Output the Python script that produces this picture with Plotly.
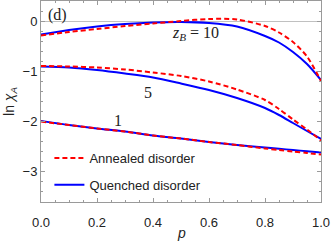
import plotly.graph_objects as go

p = [0.0, 0.1, 0.2, 0.3, 0.4, 0.5, 0.6, 0.7, 0.8, 0.85, 0.9, 0.95, 1.0]

quenched_10 = [-0.27, -0.18, -0.11, -0.06, -0.03, -0.02, -0.04, -0.11, -0.30, -0.43, -0.62, -0.86, -1.18]
annealed_10 = [-0.29, -0.22, -0.16, -0.10, -0.05, 0.00, 0.04, 0.03, -0.10, -0.23, -0.42, -0.71, -1.20]

quenched_5 = [-0.91, -0.93, -0.98, -1.05, -1.13, -1.25, -1.38, -1.54, -1.74, -1.88, -2.04, -2.20, -2.36]
annealed_5 = [-0.90, -0.91, -0.93, -0.97, -1.03, -1.10, -1.21, -1.37, -1.58, -1.76, -1.97, -2.17, -2.39]

quenched_1 = [-2.00, -2.08, -2.15, -2.21, -2.29, -2.35, -2.42, -2.48, -2.53, -2.555, -2.58, -2.605, -2.63]
annealed_1 = [-2.01, -2.08, -2.15, -2.21, -2.29, -2.35, -2.42, -2.48, -2.55, -2.58, -2.61, -2.64, -2.67]

RED = "#ff0000"
BLUE = "#0000ff"

fig = go.Figure()

for i, (q, a) in enumerate([(quenched_10, annealed_10), (quenched_5, annealed_5), (quenched_1, annealed_1)]):
    fig.add_trace(go.Scatter(x=p, y=q, mode="lines", line=dict(color=BLUE, width=2, shape="spline", smoothing=0.8),
                             name="Quenched disorder", showlegend=(i == 0), legend="legend2"))
    fig.add_trace(go.Scatter(x=p, y=a, mode="lines", line=dict(color=RED, width=2, dash="5px,3px", shape="spline", smoothing=0.8),
                             name="Annealed disorder", showlegend=(i == 0), legend="legend"))

FRAME = "#9a9a9a"
tickfont = dict(family="Liberation Sans, Arial, sans-serif", size=13, color="#222")

fig.update_xaxes(range=[0, 1.0], showline=True, mirror="ticks", linecolor=FRAME, linewidth=1,
                 ticks="inside", ticklen=4, tickcolor=FRAME, dtick=0.2, tick0=0, tickformat=".1f",
                 minor=dict(ticks="inside", ticklen=2, dtick=0.05, tickcolor=FRAME, showgrid=False),
                 showgrid=False, zeroline=False, tickfont=tickfont, ticklabelstandoff=8,
                 ticklabeloverflow="allow")
fig.update_yaxes(range=[-3.62, 0.4], showline=True, mirror="ticks", linecolor=FRAME, linewidth=1,
                 ticks="inside", ticklen=4, tickcolor=FRAME, dtick=1, tick0=0,
                 minor=dict(ticks="inside", ticklen=2, dtick=0.2, tickcolor=FRAME, showgrid=False),
                 showgrid=False, zeroline=True, zerolinecolor="#c0c0c0", zerolinewidth=1, tickfont=tickfont,
                 title=dict(text="ln <i>χ</i><sub><i>A</i></sub>", font=dict(family="Liberation Sans, Arial, sans-serif", size=14, color="#222"), standoff=4))

serif = dict(family="Liberation Serif, Times New Roman, serif", size=16, color="#222")
fig.add_annotation(x=0.018, y=0.93, xref="paper", yref="paper", text="(d)", showarrow=False,
                   xanchor="left", yanchor="middle", font=serif)
fig.add_annotation(x=0.553, y=-0.24, text="<i>z</i><sub><i>B</i></sub> = 10", showarrow=False,
                   xanchor="center", yanchor="middle", font=serif)
fig.add_annotation(x=0.382, y=-1.42, text="5", showarrow=False, xanchor="center", yanchor="middle", font=serif)
fig.add_annotation(x=0.275, y=-1.98, text="1", showarrow=False, xanchor="center", yanchor="middle", font=serif)
fig.add_annotation(x=0.5, y=-0.154, xref="paper", yref="paper", text="<i>p</i>", showarrow=False,
                   xanchor="center", yanchor="middle",
                   font=dict(family="Liberation Sans, Arial, sans-serif", size=14, color="#222"))

legfont = dict(family="Liberation Sans, Arial, sans-serif", size=13, color="#222")
fig.update_layout(
    width=332, height=249,
    margin=dict(l=41, r=11, t=1, b=47),
    plot_bgcolor="white", paper_bgcolor="white",
    legend=dict(x=0.03, y=0.219, xanchor="left", yanchor="middle", font=legfont,
                bgcolor="rgba(0,0,0,0)", itemwidth=30),
    legend2=dict(x=0.03, y=0.085, xanchor="left", yanchor="middle", font=legfont,
                 bgcolor="rgba(0,0,0,0)", itemwidth=30),
)

fig.write_html("out.html", config={"displayModeBar": False},
               post_script="document.body.style.margin='0';document.body.style.overflow='hidden';")
